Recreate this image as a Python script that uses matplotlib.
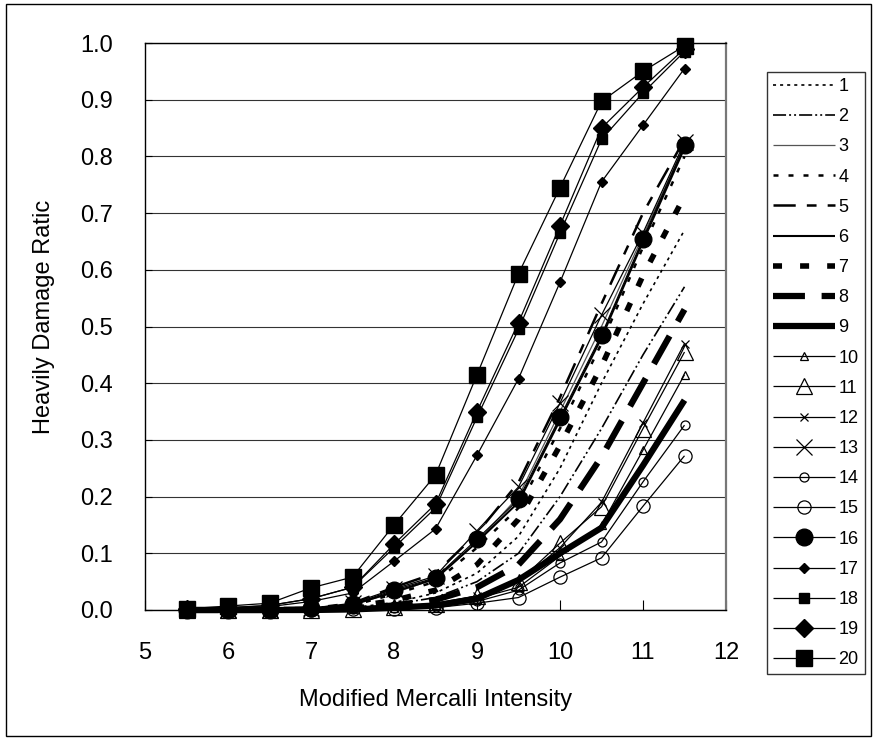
import matplotlib
matplotlib.use("Agg")
import matplotlib.pyplot as plt
from matplotlib.patches import Rectangle

plt.rcParams['font.family'] = ['Liberation Sans', 'DejaVu Sans']
plt.rcParams['lines.scale_dashes'] = False

# ---------------- data ----------------
mmi = [5.5, 6.0, 6.5, 7.0, 7.5, 8.0, 8.5, 9.0, 9.5, 10.0, 10.5, 11.0, 11.5]
labels = [str(i) for i in range(1, 21)]

s1 = [0, 0, 0, 0.001, 0.004, 0.013, 0.030, 0.065, 0.130, 0.250, 0.400, 0.540, 0.670]
s2 = [0, 0, 0, 0.001, 0.003, 0.010, 0.022, 0.050, 0.100, 0.200, 0.320, 0.450, 0.570]
s3 = [0, 0, 0, 0.002, 0.010, 0.030, 0.055, 0.120, 0.200, 0.350, 0.500, 0.660, 0.820]
s4 = [0, 0, 0, 0.002, 0.008, 0.028, 0.050, 0.110, 0.180, 0.320, 0.470, 0.640, 0.800]
s5 = [0, 0, 0, 0.003, 0.012, 0.040, 0.065, 0.135, 0.225, 0.375, 0.540, 0.700, 0.830]
s6 = [0, 0, 0, 0.002, 0.009, 0.032, 0.055, 0.120, 0.190, 0.335, 0.480, 0.650, 0.815]
s7 = [0, 0, 0, 0.001, 0.005, 0.017, 0.035, 0.080, 0.160, 0.290, 0.430, 0.590, 0.730]
s8 = [0, 0, 0, 0.001, 0.003, 0.008, 0.018, 0.040, 0.080, 0.160, 0.270, 0.400, 0.530]
s9 = [0, 0, 0, 0, 0.001, 0.004, 0.008, 0.020, 0.053, 0.100, 0.145, 0.255, 0.370]
s10 = [0, 0, 0, 0, 0.001, 0.004, 0.008, 0.020, 0.040, 0.095, 0.150, 0.282, 0.415]
s11 = [0, 0, 0, 0, 0.002, 0.005, 0.010, 0.025, 0.050, 0.118, 0.182, 0.320, 0.455]
s12 = [0, 0, 0, 0, 0.002, 0.005, 0.012, 0.025, 0.050, 0.110, 0.190, 0.330, 0.470]
s13 = [0, 0, 0, 0.003, 0.012, 0.037, 0.060, 0.140, 0.217, 0.365, 0.520, 0.665, 0.825]
s14 = [0, 0, 0, 0, 0.001, 0.003, 0.006, 0.015, 0.035, 0.083, 0.120, 0.226, 0.326]
s15 = [0, 0, 0, 0, 0.001, 0.002, 0.004, 0.012, 0.022, 0.058, 0.092, 0.183, 0.272]
s16 = [0, 0, 0, 0.003, 0.010, 0.035, 0.057, 0.125, 0.195, 0.340, 0.485, 0.655, 0.820]
s17 = [0.001, 0.003, 0.006, 0.015, 0.030, 0.086, 0.143, 0.273, 0.408, 0.578, 0.755, 0.855, 0.955]
s18 = [0.001, 0.004, 0.008, 0.020, 0.040, 0.110, 0.180, 0.340, 0.495, 0.665, 0.830, 0.912, 0.985]
s19 = [0.001, 0.004, 0.008, 0.020, 0.040, 0.116, 0.187, 0.350, 0.507, 0.678, 0.850, 0.922, 0.990]
s20 = [0.002, 0.007, 0.012, 0.039, 0.058, 0.150, 0.238, 0.415, 0.593, 0.745, 0.897, 0.950, 0.995]

series = [s1, s2, s3, s4, s5, s6, s7, s8, s9, s10,
          s11, s12, s13, s14, s15, s16, s17, s18, s19, s20]

x_ticks = [5, 6, 7, 8, 9, 10, 11, 12]
y_ticks = [0.0, 0.1, 0.2, 0.3, 0.4, 0.5, 0.6, 0.7, 0.8, 0.9, 1.0]

# ---------------- styles ----------------
thin = 0.9
styles = [
    dict(color='black', lw=1.2, ls=(0, (2.2, 2.9))),
    dict(color='black', lw=1.2, ls=(0, (9.4, 2.2, 1.4, 2.2, 1.4, 2.2))),
    dict(color='#555555', lw=0.9, ls='-'),
    dict(color='black', lw=1.8, ls=(0, (3.6, 7.2))),
    dict(color='black', lw=1.8, ls=(0, (16, 8, 7, 8))),
    dict(color='black', lw=1.5, ls='-'),
    dict(color='black', lw=4.0, ls=(0, (6.5, 13))),
    dict(color='black', lw=4.5, ls=(0, (23, 12))),
    dict(color='black', lw=4.5, ls='-'),
    dict(color='black', lw=thin, ls='-', marker='^', ms=6, mfc='none', mec='black', mew=0.9),
    dict(color='black', lw=thin, ls='-', marker='^', ms=11, mfc='none', mec='black', mew=0.9),
    dict(color='black', lw=thin, ls='-', marker='x', ms=6, mec='black', mew=0.9),
    dict(color='black', lw=thin, ls='-', marker='x', ms=11, mec='black', mew=0.9),
    dict(color='black', lw=thin, ls='-', marker='o', ms=6.5, mfc='none', mec='black', mew=0.9),
    dict(color='black', lw=thin, ls='-', marker='o', ms=9.5, mfc='none', mec='black', mew=0.9),
    dict(color='black', lw=thin, ls='-', marker='o', ms=12, mfc='black', mec='black'),
    dict(color='black', lw=thin, ls='-', marker='D', ms=5, mfc='black', mec='black'),
    dict(color='black', lw=thin, ls='-', marker='s', ms=7, mfc='black', mec='black'),
    dict(color='black', lw=thin, ls='-', marker='D', ms=9, mfc='black', mec='black'),
    dict(color='black', lw=thin, ls='-', marker='s', ms=12, mfc='black', mec='black'),
]

W, H = 876, 740
fig = plt.figure(figsize=(W / 100, H / 100), dpi=100)
fig.patch.set_facecolor('white')

# outer frame
fig.patches.append(Rectangle((6 / W, 1 - 736 / H), (871 - 6) / W, (736 - 4) / H,
                             transform=fig.transFigure, fill=False,
                             edgecolor='black', lw=1.0))

ax = fig.add_axes([145 / W, 1 - 610 / H, (726 - 145) / W, (610 - 43) / H])

handles = []
for vals, st, lab in zip(series, styles, labels):
    st = dict(st)
    ls = st.pop('ls')
    lw = st.pop('lw')
    h, = ax.plot(mmi, vals, linestyle=ls, linewidth=lw, label=lab,
                 solid_capstyle='butt', dash_capstyle='butt', clip_on=False, **st)
    handles.append(h)

ax.set_xlim(5, 12)
ax.set_ylim(0, 1.0)
ax.set_xticks(x_ticks)
ax.set_yticks(y_ticks)
ax.set_xticklabels([str(v) for v in x_ticks])
ax.set_yticklabels([f"{v:.1f}" for v in y_ticks])
ax.tick_params(axis='x', direction='in', length=7, width=0.8, pad=23,
               labelsize=17, top=False)
ax.tick_params(axis='y', direction='in', length=5, width=0.8, pad=23,
               labelsize=17, right=False)
ax.yaxis.grid(True, color='#333333', lw=0.8)
ax.set_axisbelow(True)
for sp in ['left', 'bottom', 'top']:
    ax.spines[sp].set_color('black')
    ax.spines[sp].set_linewidth(1.0)
ax.spines['right'].set_color('#777777')
ax.spines['right'].set_linewidth(1.6)

fig.text(436 / W, 1 - 706 / H, 'Modified Mercalli Intensity', ha='center',
         va='baseline', fontsize=17)
fig.text(44 / W, 1 - 317 / H, 'Heavily Damage Ratic', ha='center', va='center',
         rotation=90, fontsize=17)

leg = ax.legend(handles=handles, loc='upper left',
                bbox_to_anchor=(767 / W, 1 - 72 / H), bbox_transform=fig.transFigure,
                fontsize=13, frameon=True, fancybox=False, edgecolor='black',
                handlelength=3.43, handletextpad=0.2, borderpad=0.33,
                labelspacing=0.73, borderaxespad=0, markerscale=1.0)
leg.get_frame().set_linewidth(1.0)

fig.savefig('out.png', dpi=100, facecolor='white')
